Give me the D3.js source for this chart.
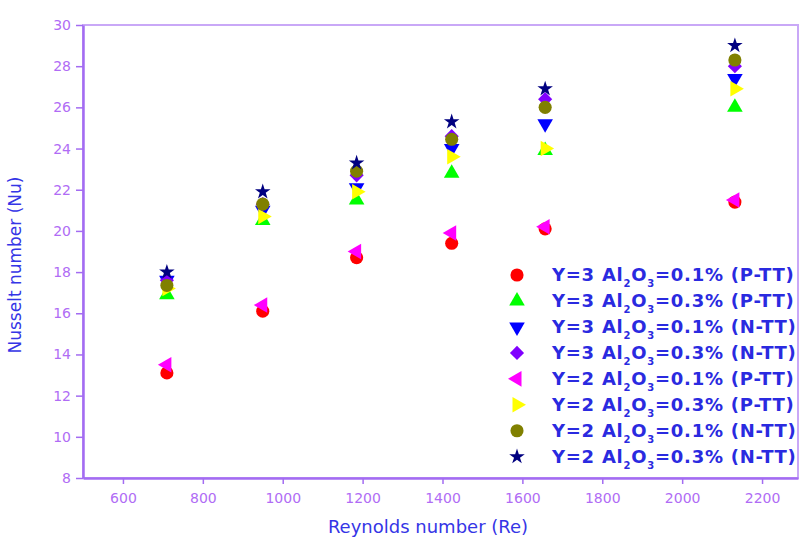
<!DOCTYPE html>
<html>
<head>
<meta charset="utf-8">
<script src="https://cdnjs.cloudflare.com/ajax/libs/d3/7.8.5/d3.min.js"></script>
<style>
  body { margin: 0; background: #fff; }
  text { font-family: "DejaVu Sans", sans-serif; }
</style>
</head>
<body>
<div class="chart"></div>
<script>
// Data
var reynolds = [710, 950, 1185, 1423, 1657, 2132];

var y3_01_P = [13.1, 16.1, 18.7, 19.4, 20.1, 21.4];
var y3_03_P = [16.9, 20.5, 21.5, 22.8, 23.9, 26.0];
var y3_01_N = [17.6, 21.0, 22.1, 24.0, 25.2, 27.4];
var y3_03_N = [17.6, 21.3, 22.7, 24.6, 26.4, 28.0];
var y2_01_P = [13.5, 16.4, 19.0, 19.9, 20.2, 21.5];
var y2_03_P = [17.2, 20.7, 21.9, 23.6, 24.0, 26.9];
var y2_01_N = [17.35, 21.3, 22.9, 24.45, 26.0, 28.3];
var y2_03_N = [18.0, 21.9, 23.3, 25.3, 26.9, 29.0];

var xTicks = [600, 800, 1000, 1200, 1400, 1600, 1800, 2000, 2200];
var yTicks = [8, 10, 12, 14, 16, 18, 20, 22, 24, 26, 28, 30];

// legend labels: [Y value, concentration, mode]
var labelY = ["3", "3", "3", "3", "2", "2", "2", "2"];
var labelConc = ["0.1", "0.3", "0.1", "0.3", "0.1", "0.3", "0.1", "0.3"];
var labelMode = ["P-TT", "P-TT", "N-TT", "N-TT", "P-TT", "P-TT", "N-TT", "N-TT"];

var seriesValues = [y3_01_P, y3_03_P, y3_01_N, y3_03_N, y2_01_P, y2_03_P, y2_01_N, y2_03_N];
var colors = ["#ff0000", "#00ff00", "#0000ff", "#8000ff", "#ff00ff", "#ffff00", "#808000", "#000080"];
var shapes = ["circle", "up", "down", "diamond", "left", "right", "circle", "star"];

var svgWidth = 803;
var svgHeight = 542;

var margin = { top: 25, right: 5, bottom: 64, left: 83 };
var width = svgWidth - margin.left - margin.right;
var height = svgHeight - margin.top - margin.bottom;

var axisColor = "#a36cf2";
var tickTextColor = "#b06cf5";
var titleColor = "#3535e6";

var svg = d3.select(".chart")
  .append("svg")
  .attr("width", svgWidth)
  .attr("height", svgHeight);

var chartGroup = svg.append("g")
  .attr("transform", `translate(${margin.left}, ${margin.top})`);

var xScale = d3.scaleLinear().domain([500, 2290]).range([0, width]);
var yScale = d3.scaleLinear().domain([8, 30]).range([height, 0]);

// frame (top + right)
chartGroup.append("rect")
  .attr("width", width)
  .attr("height", height)
  .attr("fill", "none")
  .attr("stroke", "#c9a8f7")
  .attr("stroke-width", 2);

// axes
var bottomAxis = d3.axisBottom(xScale).tickValues(xTicks).tickFormat(d3.format("d"))
  .tickSize(6).tickPadding(9).tickSizeOuter(0);
var leftAxis = d3.axisLeft(yScale).tickValues(yTicks).tickFormat(d3.format("d"))
  .tickSize(7).tickPadding(5).tickSizeOuter(0);

var gx = chartGroup.append("g")
  .attr("transform", `translate(0, ${height})`)
  .call(bottomAxis);

var gy = chartGroup.append("g")
  .call(leftAxis);

[gx, gy].forEach(function(g) {
  g.select(".domain").attr("stroke", axisColor).attr("stroke-width", 2.5);
  g.selectAll(".tick line").attr("stroke", axisColor).attr("stroke-width", 1.5);
  g.selectAll(".tick text")
    .attr("fill", tickTextColor)
    .style("font-size", "14px");
});

// symbols
function symbolPath(shape) {
  if (shape == "circle") return d3.symbol().type(d3.symbolCircle).size(135)();
  if (shape == "diamond") return d3.symbol().type(d3.symbolSquare).size(100)();
  if (shape == "star") return d3.symbol().type(d3.symbolStar).size(75)();
  return d3.symbol().type(d3.symbolTriangle).size(105)();
}
function symbolRotate(shape) {
  if (shape == "down") return 180;
  if (shape == "left") return -90;
  if (shape == "right") return 90;
  if (shape == "diamond") return 45;
  return 0;
}

seriesValues.forEach(function(vals, i) {
  chartGroup.append("g")
    .selectAll("path")
    .data(vals)
    .enter()
    .append("path")
    .attr("d", symbolPath(shapes[i]))
    .attr("transform", (d, j) => `translate(${xScale(reynolds[j])}, ${yScale(d)}) rotate(${symbolRotate(shapes[i])})`)
    .attr("fill", colors[i]);
});

// legend
var legend = svg.append("g").attr("transform", "translate(517, 275)");
var rowGap = 25.96;

labelY.forEach(function(yv, i) {
  var row = legend.append("g").attr("transform", `translate(0, ${i * rowGap})`);
  row.append("path")
    .attr("d", symbolPath(shapes[i]))
    .attr("transform", `rotate(${symbolRotate(shapes[i])})`)
    .attr("fill", colors[i]);

  var t = row.append("text")
    .attr("x", 35)
    .attr("y", 6)
    .attr("fill", "#2a2ae0")
    .style("font-size", "18px")
    .style("letter-spacing", "0.75px")
    .style("font-weight", "bold");
  t.append("tspan").text("Y=" + yv + " Al");
  t.append("tspan").attr("dy", 6).style("font-size", "10px").text("2");
  t.append("tspan").attr("dy", -6).text("O");
  t.append("tspan").attr("dy", 6).style("font-size", "10px").text("3");
  t.append("tspan").attr("dy", -6).text("=" + labelConc[i] + "% (" + labelMode[i] + ")");
});

// axis titles
chartGroup.append("text")
  .attr("transform", "rotate(-90)")
  .attr("x", -240)
  .attr("y", -62)
  .attr("text-anchor", "middle")
  .attr("fill", titleColor)
  .style("font-size", "17px")
  .text("Nusselt number (Nu)");

chartGroup.append("text")
  .attr("x", 345)
  .attr("y", height + 55)
  .attr("text-anchor", "middle")
  .attr("fill", titleColor)
  .style("font-size", "18px")
  .text("Reynolds number (Re)");
</script>
</body>
</html>
